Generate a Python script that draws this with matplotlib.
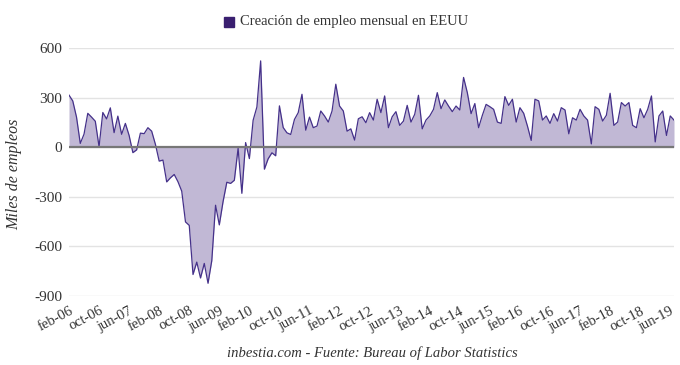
import matplotlib.pyplot as plt
import matplotlib.transforms as mtransforms
import numpy as np

# monthly change in US nonfarm payrolls, thousands, feb-2006 .. jul-2019
y2006 = [315, 280, 182, 23, 79, 205, 182, 157, 3, 210, 171]
y2007 = [238, 88, 188, 78, 144, 71, -33, -16, 85, 82, 118, 97]
y2008 = [17, -84, -78, -210, -185, -165, -209, -266, -452, -473, -770, -695]
y2009 = [-791, -703, -823, -686, -351, -470, -329, -212, -219, -200, -7, -279]
y2010 = [28, -69, 163, 243, 522, -133, -70, -34, -52, 250, 119, 87]
y2011 = [77, 168, 209, 320, 103, 182, 118, 128, 219, 189, 152, 219]
y2012 = [381, 249, 219, 97, 111, 43, 172, 184, 148, 209, 164, 290]
y2013 = [209, 310, 118, 184, 215, 132, 158, 253, 152, 199, 314, 111]
y2014 = [164, 189, 229, 330, 233, 286, 249, 215, 249, 225, 422, 330]
y2015 = [203, 264, 118, 193, 259, 245, 229, 152, 144, 306, 253, 290]
y2016 = [152, 239, 205, 128, 41, 290, 280, 164, 189, 144, 203, 158]
y2017 = [239, 225, 81, 178, 164, 229, 189, 164, 20, 245, 229, 158]
y2018 = [193, 326, 132, 152, 270, 249, 270, 132, 118, 233, 178, 229]
y2019 = [310, 32, 189, 219, 71, 189, 164]

empleo = (y2006 + y2007 + y2008 + y2009 + y2010 + y2011 + y2012 + y2013
          + y2014 + y2015 + y2016 + y2017 + y2018 + y2019)

tick_labels = ['feb-06', 'oct-06', 'jun-07', 'feb-08', 'oct-08', 'jun-09',
               'feb-10', 'oct-10', 'jun-11', 'feb-12', 'oct-12', 'jun-13',
               'feb-14', 'oct-14', 'jun-15', 'feb-16', 'oct-16', 'jun-17',
               'feb-18', 'oct-18', 'jun-19']
y_ticks = [600, 300, 0, -300, -600, -900]

serif = ['Liberation Serif', 'DejaVu Serif']
txt = '#333333'
line_c = '#45318a'
fill_c = '#c1b8d5'

fig = plt.figure(figsize=(6.8, 3.65), dpi=100)
ax = fig.add_axes([69 / 680, 1 - 296 / 365, 605 / 680, 248 / 365])

x = np.arange(len(empleo))
ax.fill_between(x, empleo, 0, color=fill_c, linewidth=0, zorder=2)
ax.plot(x, empleo, color=line_c, linewidth=0.9, zorder=3)
ax.axhline(0, color='#777777', linewidth=1.6, zorder=4)

ax.set_xlim(0, len(empleo) - 1)
ax.set_ylim(-900, 600)
ax.set_yticks(y_ticks)
ax.set_yticklabels([str(v) for v in y_ticks], family=serif, fontsize=11, color=txt)
ax.set_xticks(np.arange(0, 8 * len(tick_labels), 8))
ax.set_xticklabels(tick_labels, family=serif, fontsize=10.5, color=txt,
                   rotation=28, ha='right', rotation_mode='anchor')
shift = mtransforms.ScaledTranslation(4 / 100, 0, fig.dpi_scale_trans)
for lab in ax.get_xticklabels():
    lab.set_transform(lab.get_transform() + shift)
ax.tick_params(axis='both', length=0, pad=5)
ax.tick_params(axis='x', pad=6)
ax.grid(axis='y', color='#e3e3e3', linewidth=1, zorder=0)
for s in ax.spines.values():
    s.set_visible(False)

fig.text(14 / 680, 1 - 174 / 365, 'Miles de empleos', rotation=90, ha='center',
         va='center', family=serif, style='italic', fontsize=11.5, color=txt)
fig.text(372 / 680, 1 - 353 / 365, 'inbestia.com - Fuente: Bureau of Labor Statistics',
         ha='center', va='center', family=serif, style='italic', fontsize=10.5, color=txt)

# legend
fig.patches.append(plt.Rectangle((224 / 680, 1 - 27 / 365), 10 / 680, 10 / 365,
                                 transform=fig.transFigure, color='#3a1f70'))
fig.text(240 / 680, 1 - 21 / 365, 'Creación de empleo mensual en EEUU', ha='left',
         va='center', family=serif, fontsize=10.5, color=txt)

fig.savefig('out.png', dpi=100)
